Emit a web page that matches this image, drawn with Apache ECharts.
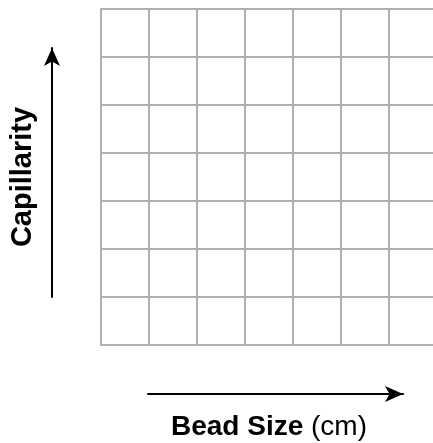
<!DOCTYPE html>
<html>
<head>
<meta charset="utf-8">
<script src="https://cdn.jsdelivr.net/npm/echarts@6/dist/echarts.min.js"></script>
<style>html,body{margin:0;padding:0;background:#fff;}#c{width:433px;height:443px;}</style>
</head>
<body>
<div id="c"></div>
<script>
// Chart content (empty grid diagram)
const xRange = [0, 7];          // bead-size cells
const yRange = [0, 7];          // capillarity cells
const xTitleBold = 'Bead Size';
const xTitleUnit = '(cm)';
const yTitle = 'Capillarity';

const FONT = "'Liberation Sans', Arial, Helvetica, sans-serif";
const gridColor = '#b0b0b0';
const chart = echarts.init(document.getElementById('c'), null, {renderer: 'canvas'});

const hiddenAxis = (g) => ({type: 'value', gridIndex: g, show: false});

chart.setOption({
  animation: false,
  backgroundColor: '#ffffff',
  grid: [
    {left: 101, top: 9, width: 336, height: 336, outerBoundsMode: 'none', containLabel: false},
    {left: 148, top: 300, width: 255, height: 94, outerBoundsMode: 'none', containLabel: false},
    {left: 52, top: 48, width: 20, height: 249, outerBoundsMode: 'none', containLabel: false}
  ],
  xAxis: [
    {
      type: 'value', gridIndex: 0, min: xRange[0], max: xRange[1], interval: 1,
      axisLine: {show: true, lineStyle: {color: gridColor, width: 2}},
      axisTick: {show: false}, axisLabel: {show: false},
      splitLine: {show: true, lineStyle: {color: gridColor, width: 2}},
      name: '{b|' + xTitleBold + ' }{n|' + xTitleUnit + '}',
      nameLocation: 'middle', nameGap: 68,
      nameTextStyle: {
        rich: {
          b: {fontFamily: FONT, fontSize: 28, fontWeight: 'bold', color: '#000'},
          n: {fontFamily: FONT, fontSize: 28, fontWeight: 'normal', color: '#000'}
        }
      }
    },
    {
      type: 'value', gridIndex: 1, min: 0, max: 1,
      axisLine: {show: true, symbol: ['none', 'arrow'], symbolSize: [12, 18], lineStyle: {color: '#000', width: 2}},
      axisTick: {show: false}, axisLabel: {show: false}, splitLine: {show: false}
    },
    hiddenAxis(2)
  ],
  yAxis: [
    {
      type: 'value', gridIndex: 0, min: yRange[0], max: yRange[1], interval: 1,
      axisLine: {show: true, lineStyle: {color: gridColor, width: 2}},
      axisTick: {show: false}, axisLabel: {show: false},
      splitLine: {show: true, lineStyle: {color: gridColor, width: 2}},
      name: yTitle, nameLocation: 'middle', nameGap: 64,
      nameTextStyle: {fontFamily: FONT, fontSize: 29, fontWeight: 'bold', color: '#000'}
    },
    hiddenAxis(1),
    {
      type: 'value', gridIndex: 2, min: 0, max: 1, position: 'left',
      axisLine: {show: true, symbol: ['none', 'arrow'], symbolSize: [12, 18], lineStyle: {color: '#000', width: 2}},
      axisTick: {show: false}, axisLabel: {show: false}, splitLine: {show: false}
    }
  ],
  series: []
});
</script>
</body>
</html>
